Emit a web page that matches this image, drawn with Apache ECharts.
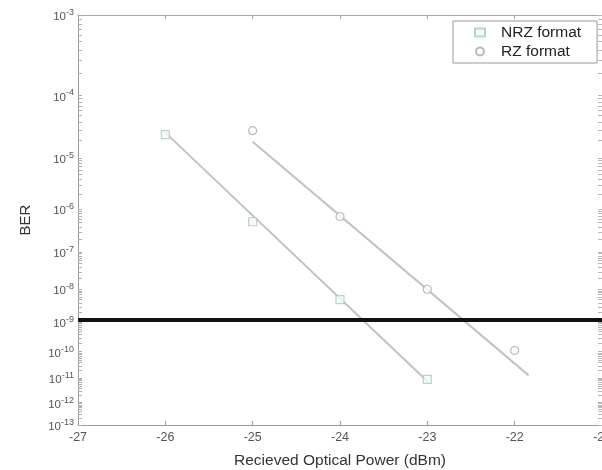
<!DOCTYPE html>
<html>
<head>
<meta charset="utf-8">
<script src="https://cdn.jsdelivr.net/npm/echarts@6/dist/echarts.min.js"></script>
<style>
  html, body { margin: 0; padding: 0; background: #fff; }
  #chart { width: 602px; height: 470px; }
</style>
</head>
<body>
<div id="chart"></div>
<script>
// Measured BER versus received optical power
const nrzPower = [-26, -25, -24, -23];
const nrzBer   = [2.5e-5, 5.2e-7, 5.0e-9, 9.0e-12];
const rzPower  = [-25, -24, -23, -22];
const rzBer    = [2.9e-5, 6.8e-7, 1.0e-8, 1.1e-10];

// Linear fit endpoints (in the BER-scaled space)
const nrzFitPower = [-26, -23];
const nrzFitBer   = [2.7e-5, 7.6e-12];
const rzFitPower  = [-25, -21.84];
const rzFitBer    = [1.9e-5, 1.3e-11];

// Error-free threshold
const berLimit = 1e-9;

// Axis ranges and tick exponents
const xTicks = [-27, -26, -25, -24, -23, -22, -21];
const berExponents = [3, 4, 5, 6, 7, 8, 9, 10, 11, 12, 13];

// BER axis scale: log10(-log10(BER))
const t = ber => Math.log10(-Math.log10(ber));
const pairs = (xs, bers) => xs.map((x, i) => [x, t(bers[i])]);

const majorY = berExponents.map(n => Math.log10(n));
const minorY = [];
for (let n = 3; n < 13; n++) {
  for (let k = 2; k <= 9; k++) minorY.push(t(k * Math.pow(10, -(n + 1))));
}
const allTicksY = majorY.concat(minorY);

const yLabel = v => {
  const n = Math.round(Math.pow(10, v));
  return '{b|10}{s|-' + n + '}';
};

const lineGray = '#c2c2c2';
const font = 'Liberation Sans, Arial, sans-serif';

const chart = echarts.init(document.getElementById('chart'));
chart.setOption({
  animation: false,
  backgroundColor: '#fff',
  grid: { left: 78, right: 0, top: 15, bottom: 45, outerBoundsMode: 'none' },
  legend: {
    orient: 'vertical',
    left: 453,
    top: 21,
    padding: [3, 16, 3, 21],
    itemGap: 2,
    itemWidth: 10,
    itemHeight: 8,
    borderColor: '#9a9a9a',
    borderWidth: 1,
    backgroundColor: '#fff',
    textStyle: { fontFamily: font, fontSize: 15.5, color: '#222', lineHeight: 17,
                 padding: [0, 0, 0, 11] },
    data: ['NRZ format', 'RZ format']
  },
  xAxis: [{
    type: 'value',
    min: -27, max: -21, interval: 1,
    name: 'Recieved Optical Power (dBm)',
    nameLocation: 'middle',
    nameGap: 28,
    nameMoveOverlap: false,
    nameTextStyle: { fontFamily: font, fontSize: 15.5, color: '#333' },
    axisLine: { lineStyle: { color: '#9a9a9a', width: 1 } },
    axisTick: { inside: true, length: 4, lineStyle: { color: '#9a9a9a' } },
    axisLabel: { fontFamily: font, fontSize: 12.5, color: '#555', margin: 6,
                 customValues: xTicks },
    splitLine: { show: false }
  }, {
    type: 'value',
    position: 'top',
    min: -27, max: -21, interval: 1,
    axisLine: { show: true, onZero: false, lineStyle: { color: '#a8a8a8', width: 1 } },
    axisTick: { inside: true, length: 4, lineStyle: { color: '#a8a8a8' } },
    axisLabel: { show: false },
    splitLine: { show: false }
  }],
  yAxis: [{
    type: 'value',
    inverse: true,
    min: Math.log10(3), max: Math.log10(13),
    name: 'BER',
    nameLocation: 'middle',
    nameRotate: 90,
    nameGap: 45,
    nameMoveOverlap: false,
    nameTextStyle: { fontFamily: font, fontSize: 15, color: '#333' },
    axisLine: { show: true, lineStyle: { color: '#9a9a9a', width: 1 } },
    axisTick: { inside: true, length: 4, customValues: allTicksY,
                lineStyle: { color: '#b0b0b0' } },
    axisLabel: {
      customValues: majorY,
      formatter: yLabel,
      margin: 4,
      rich: {
        b: { fontFamily: font, fontSize: 11.5, color: '#555', padding: [4, 0, 0, 0] },
        s: { fontFamily: font, fontSize: 9, color: '#555', padding: [0, 0, 5, 0] }
      }
    },
    splitLine: { show: false }
  }, {
    type: 'value',
    position: 'right',
    inverse: true,
    min: Math.log10(3), max: Math.log10(13),
    axisLine: { show: false },
    axisTick: { inside: true, length: 4, customValues: allTicksY,
                lineStyle: { color: '#b8b8b8' } },
    axisLabel: { show: false },
    splitLine: { show: false }
  }],
  series: [
    {
      name: 'NRZ fit',
      type: 'line',
      data: pairs(nrzFitPower, nrzFitBer),
      symbol: 'none',
      lineStyle: { color: lineGray, width: 2 },
      z: 2
    },
    {
      name: 'RZ fit',
      type: 'line',
      data: pairs(rzFitPower, rzFitBer),
      symbol: 'none',
      lineStyle: { color: lineGray, width: 2 },
      z: 2,
      markLine: {
        silent: true,
        symbol: 'none',
        label: { show: false },
        lineStyle: { color: '#111', width: 4, type: 'solid' },
        data: [{ yAxis: t(berLimit) }]
      }
    },
    {
      name: 'NRZ format',
      type: 'scatter',
      data: pairs(nrzPower, nrzBer),
      symbol: 'rect',
      symbolSize: 8,
      itemStyle: { color: '#f4faf7', borderColor: '#a9c9bb', borderWidth: 1.2 },
      z: 3
    },
    {
      name: 'RZ format',
      type: 'scatter',
      data: pairs(rzPower, rzBer),
      symbol: 'circle',
      symbolSize: 8,
      itemStyle: { color: '#fff', borderColor: '#a8a8a8', borderWidth: 1.2 },
      z: 3
    }
  ]
});
</script>
</body>
</html>
